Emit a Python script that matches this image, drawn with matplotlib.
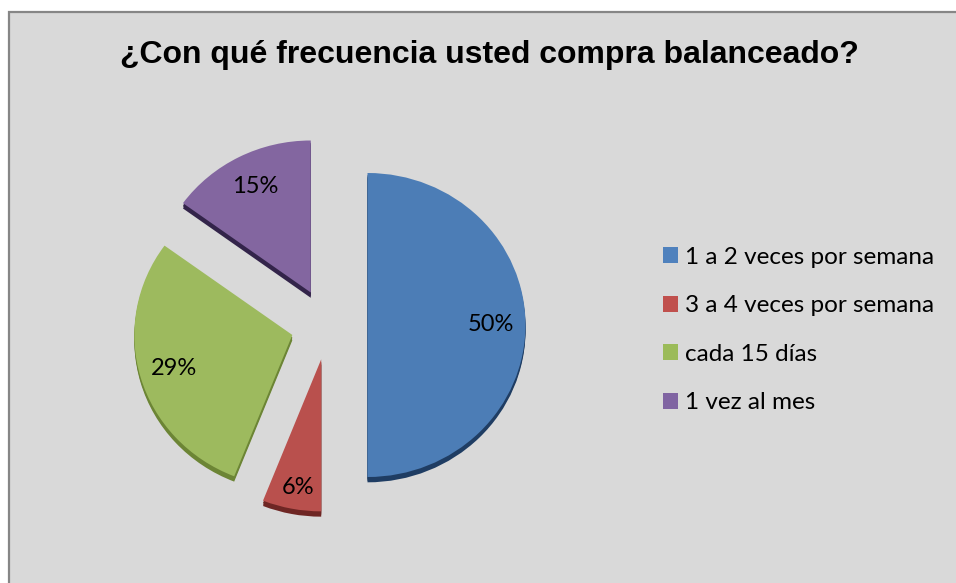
import matplotlib
matplotlib.use("Agg")
import matplotlib.pyplot as plt
from matplotlib.patches import Rectangle

title = "¿Con qué frecuencia usted compra balanceado?"
categories = ["1 a 2 veces por semana", "3 a 4 veces por semana", "cada 15 días", "1 vez al mes"]
values = [50, 6, 29, 15]
colors = ["#4c7db6", "#b9504d", "#9dba5e", "#8366a0"]
side_colors = ["#1f3d63", "#6e2624", "#6c8535", "#33244a"]
legend_colors = ["#4f81bd", "#c0504d", "#9bbb59", "#8064a2"]
explode = [0.25, 0.23, 0.235, 0.24]

W, H = 956, 583
fig = plt.figure(figsize=(W / 100, H / 100), dpi=100, facecolor="white")
fig.add_artist(Rectangle((9 / W, -0.02), (W - 9) / W + 0.02, (H - 12) / H + 0.02, transform=fig.transFigure,
                         facecolor="#d9d9d9", edgecolor="#868686", linewidth=1.6, zorder=-1))
fig.text(489 / W, 1 - 55 / H, title, ha="center", va="center", fontsize=23,
         fontweight="bold", family="Liberation Sans", color="black")

ax = fig.add_axes([130.5 / W, 1 - (135 + 380) / H, 395 / W, 380 / H])
for dy in (-0.035, -0.025, -0.015):
    ax.pie(values, explode=explode, colors=side_colors, startangle=90, counterclock=False,
           center=(0, dy), normalize=True)
wedges, _, autotexts = ax.pie(values, explode=explode, colors=colors, startangle=90,
                              counterclock=False, autopct="%.0f%%", pctdistance=0.78,
                              textprops=dict(family="Lato", fontsize=17, color="black"))
autotexts[1].set_y(autotexts[1].get_position()[1] * 1.08)
ax.set_aspect("auto")
ax.set_xlim(-1.25, 1.25)
ax.set_ylim(-1.25, 1.25)

handles = [Rectangle((0, 0), 1, 1, facecolor=c) for c in legend_colors]
fig.legend(handles, categories, loc="center left", bbox_to_anchor=(653 / W, 1 - 330 / H),
           frameon=False, handlelength=0.62, handleheight=0.62, handletextpad=0.3,
           labelspacing=1.13, borderaxespad=0,
           prop=dict(family="Lato", size=17.5))
fig.savefig("out.png", dpi=100, facecolor="white")
